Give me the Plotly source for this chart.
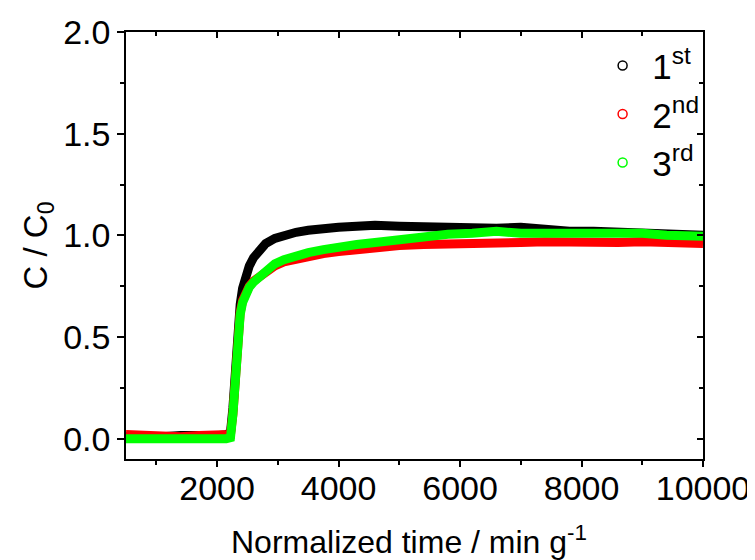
import plotly.graph_objects as go

# Normalized time (min g^-1)
t = [500, 800, 1100, 1400, 1700, 2000, 2150, 2220, 2260, 2300, 2340, 2380, 2420, 2470,
     2530, 2600, 2700, 2800, 2950, 3100, 3300, 3500, 3750, 4000, 4300, 4600, 5000, 5400,
     5800, 6200, 6600, 7000, 7400, 7800, 8200, 8600, 9000, 9400, 9800, 10000]

c1 = [0.010, 0.005, 0.010, 0.015, 0.010, 0.015, 0.020, 0.030, 0.150, 0.380, 0.550, 0.660,
      0.740, 0.800, 0.850, 0.890, 0.930, 0.960, 0.985, 1.000, 1.015, 1.025, 1.035, 1.040,
      1.045, 1.050, 1.045, 1.040, 1.045, 1.035, 1.035, 1.040, 1.025, 1.020, 1.020, 1.015,
      1.010, 1.005, 1.000, 1.000]

c2 = [0.020, 0.015, 0.010, 0.010, 0.015, 0.015, 0.015, 0.020, 0.120, 0.350, 0.520, 0.620,
      0.680, 0.720, 0.750, 0.775, 0.800, 0.825, 0.850, 0.870, 0.885, 0.900, 0.910, 0.920,
      0.930, 0.940, 0.950, 0.955, 0.960, 0.965, 0.968, 0.965, 0.968, 0.965, 0.967, 0.965,
      0.968, 0.965, 0.962, 0.960]

c3 = [0.000, -0.005, 0.000, 0.000, -0.005, 0.000, 0.000, 0.005, 0.120, 0.350, 0.520, 0.610,
      0.670, 0.710, 0.745, 0.770, 0.800, 0.830, 0.860, 0.880, 0.900, 0.915, 0.930, 0.945,
      0.955, 0.965, 0.980, 0.995, 1.005, 1.010, 1.020, 1.010, 1.010, 1.010, 1.005, 1.015,
      1.010, 1.000, 1.000, 0.995]

names = ["\u00a01<sup>st</sup>", "\u00a02<sup>nd</sup>", "\u00a03<sup>rd</sup>"]
colors = ["#000000", "#FF0000", "#00FF00"]
series = [c1, c2, c3]

x_title = "Normalized time / min g<sup>-1</sup>"
y_title = "C / C<sub>0</sub>"

FONT = "Liberation Sans, Arial, sans-serif"

fig = go.Figure()
for ys, col in zip(series, colors):
    fig.add_trace(go.Scatter(x=t, y=ys, mode="lines", line=dict(color=col, width=9),
                             showlegend=False, hoverinfo="skip"))
for nm, col in zip(names, colors):
    fig.add_trace(go.Scatter(x=[None], y=[None], mode="markers", name=nm,
                             marker=dict(symbol="circle-open", size=9, color=col,
                                         line=dict(width=1.5, color=col))))
# helper trace for mirrored (inside-tick) top/right axes
fig.add_trace(go.Scatter(x=[None], y=[None], xaxis="x2", yaxis="y2",
                         showlegend=False, hoverinfo="skip"))

axis_common = dict(showline=True, linecolor="black", linewidth=1.5, showgrid=False,
                   zeroline=False, tickcolor="black", tickwidth=1.5, automargin=False)

fig.update_layout(
    width=747, height=552,
    margin=dict(l=118, r=52, t=24, b=101),
    paper_bgcolor="white", plot_bgcolor="white",
    font=dict(family=FONT, color="black", size=34),
    xaxis=dict(range=[500, 10000], tick0=0, dtick=2000, tickformat="d", ticks="outside",
               ticklen=6, ticklabelstandoff=-8, ticklabeloverflow="allow",
               minor=dict(dtick=1000, tick0=0, ticks="outside", ticklen=4,
                          tickcolor="black", tickwidth=1.5),
               tickfont=dict(size=34),
               **axis_common),
    yaxis=dict(range=[-0.1, 2.0], tick0=0, dtick=0.5, tickformat=".1f", ticks="outside",
               ticklen=7, ticklabeloverflow="allow",
               minor=dict(dtick=0.25, tick0=0, ticks="outside", ticklen=4,
                          tickcolor="black", tickwidth=1.5),
               tickfont=dict(size=34),
               title=dict(text=y_title, font=dict(size=33), standoff=6),
               **axis_common),
    xaxis2=dict(overlaying="x", side="top", anchor="y", range=[500, 10000], tick0=0,
                dtick=2000, ticks="inside", ticklen=6, showticklabels=False,
                minor=dict(dtick=1000, tick0=0, ticks="inside", ticklen=4,
                           tickcolor="black", tickwidth=1.5),
                **axis_common),
    yaxis2=dict(overlaying="y", side="right", anchor="x", range=[-0.1, 2.0], tick0=0,
                dtick=0.5, ticks="inside", ticklen=6, showticklabels=False,
                minor=dict(dtick=0.25, tick0=0, ticks="inside", ticklen=4,
                           tickcolor="black", tickwidth=1.5),
                **axis_common),
    legend=dict(x=0.826, y=0.99, xanchor="left", yanchor="top",
                bgcolor="rgba(0,0,0,0)", borderwidth=0,
                font=dict(size=35), itemwidth=30, tracegroupgap=0),
    annotations=[dict(text=x_title, xref="paper", yref="paper", x=0.49, y=-0.19,
                      xanchor="center", yanchor="middle", showarrow=False,
                      font=dict(size=32, family=FONT, color="black"))],
)

fig.write_html("out.html")
